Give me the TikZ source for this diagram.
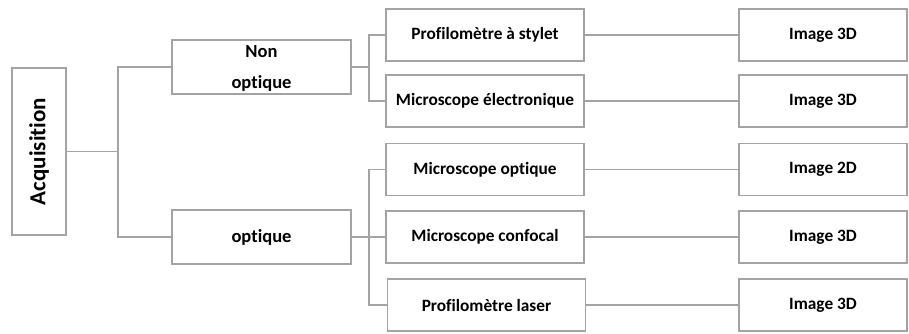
\documentclass[tikz,border=0pt]{standalone}
\usepackage{fontspec}
\setmainfont{Carlito}[Ligatures=NoCommon]
\usepackage{xcolor}
\usepackage{tikz}
\definecolor{LGray}{HTML}{A3A3A3}

\begin{document}
\begin{tikzpicture}[
  x=1pt,y=-1pt,
  every node/.style={font=\bfseries\fontsize{17.3}{20}\selectfont},
  rootbox/.style={draw=LGray,line width=1.8pt,fill=white,
    minimum width=167pt,minimum height=54pt,rotate=90,inner sep=0pt,
    font=\bfseries\fontsize{23}{26}\selectfont},
  kindbox/.style={draw=LGray,line width=1.8pt,fill=white,
    minimum width=179pt,minimum height=54pt,align=center,inner sep=0pt,
    font=\bfseries\fontsize{18.5}{31}\selectfont},
  toolbox/.style={draw=LGray,line width=1.8pt,fill=white,
    minimum width=198pt,minimum height=52pt,inner sep=0pt},
  outbox/.style={draw=LGray,line width=1.8pt,fill=white,
    minimum width=168pt,minimum height=52pt,inner sep=0pt},
  link/.style={draw=LGray,line width=1.5pt}
]
  \useasboundingbox (0,0) rectangle (909,334);

  \node[rootbox] (acq) at (39,151.5) {Acquisition};

  \node[kindbox,text depth=0pt] (nonopt) at (261.5,67) {Non\\optique};
  \node[kindbox] (opt) at (261.5,237) {optique};

  \node[toolbox] (stylet) at (485,35) {Profilomètre à stylet};
  \node[toolbox] (meb) at (485,101) {Microscope électronique};
  \node[toolbox] (mo) at (485,169.5) {Microscope optique};
  \node[toolbox] (conf) at (485,237) {Microscope confocal};
  \node[toolbox] (laser) at (486.5,305) {Profilomètre laser};

  \node[outbox] (img1) at (823,35) {Image 3D};
  \node[outbox] (img2) at (823,101) {Image 3D};
  \node[outbox] (img3) at (823,169.5) {Image 2D};
  \node[outbox] (img4) at (823,237) {Image 3D};
  \node[outbox] (img5) at (823,305) {Image 3D};

  \coordinate (j0) at (118,151.5);
  \coordinate (j1) at (369,67);
  \coordinate (j2) at (369,237);

  \draw[link] (acq.south) -- (j0);
  \draw[link] (nonopt.west) -| (j0) |- (opt.west);
  \draw[link] (nonopt.east) -- (j1);
  \draw[link] (stylet.west) -| (j1) |- (meb.west);
  \draw[link] (opt.east) -- (j2);
  \draw[link] (mo.west) -| (j2) |- (laser.west);
  \draw[link] (j2) -- (conf.west);

  \draw[link] (stylet) -- (img1);
  \draw[link] (meb) -- (img2);
  \draw[link] (mo) -- (img3);
  \draw[link] (conf) -- (img4);
  \draw[link] (laser) -- (img5);
\end{tikzpicture}
\end{document}
